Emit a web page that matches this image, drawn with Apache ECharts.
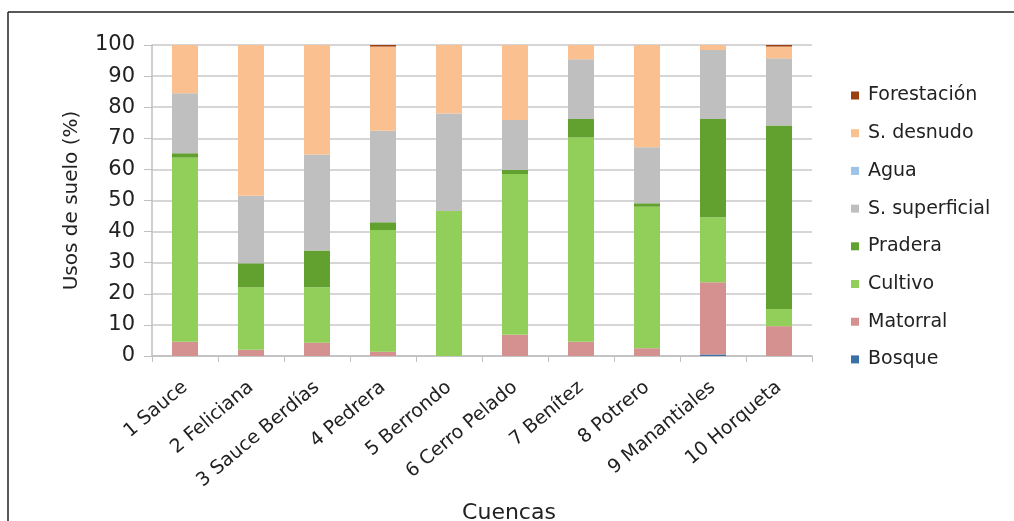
<!DOCTYPE html>
<html>
<head>
<meta charset="utf-8">
<script src="https://cdn.jsdelivr.net/npm/echarts@6/dist/echarts.min.js"></script>
<style>
html,body{margin:0;padding:0;background:#fff;}
#chart{width:1014px;height:521px;}
</style>
</head>
<body>
<div id="chart"></div>
<script>
const categories = ['1 Sauce','2 Feliciana','3 Sauce Berdías','4 Pedrera','5 Berrondo','6 Cerro Pelado','7 Benítez','8 Potrero','9 Manantiales','10 Horqueta'];
const bosque       = [0, 0, 0, 0, 0, 0, 0, 0, 0.5, 0];
const matorral     = [4.6, 2.0, 4.3, 1.4, 0, 6.8, 4.6, 2.5, 23.2, 9.6];
const cultivo      = [59.2, 20.1, 17.8, 39.1, 46.6, 51.7, 65.7, 45.5, 20.9, 5.5];
const pradera      = [1.4, 7.7, 11.8, 2.5, 0, 1.3, 5.9, 1.1, 31.6, 59.0];
const sSuperficial = [19.3, 21.7, 30.9, 29.4, 31.4, 16.1, 19.2, 18.0, 22.2, 21.6];
const agua         = [0, 0, 0, 0, 0, 0, 0, 0, 0, 0];
const sDesnudo     = [15.5, 48.5, 35.2, 27.1, 22.0, 24.1, 4.6, 32.9, 1.6, 3.8];
const forestacion  = [0, 0, 0, 0.5, 0, 0, 0, 0, 0, 0.5];
const yTicks = [0, 10, 20, 30, 40, 50, 60, 70, 80, 90, 100];

const seriesDefs = [
  ['Bosque', bosque, '#3a6fa8'],
  ['Matorral', matorral, '#d4918f'],
  ['Cultivo', cultivo, '#92cf5a'],
  ['Pradera', pradera, '#62a030'],
  ['S. superficial', sSuperficial, '#bfbfbf'],
  ['Agua', agua, '#9dc3e6'],
  ['S. desnudo', sDesnudo, '#fac090'],
  ['Forestación', forestacion, '#9c3f10']
];

const font = 'DejaVu Sans, Verdana, sans-serif';
const chart = echarts.init(document.getElementById('chart'), null, {renderer: 'canvas'});
chart.setOption({
  animation: false,
  backgroundColor: '#fff',
  textStyle: {fontFamily: font},
  grid: {left: 152, right: 202, top: 45, bottom: 165, containLabel: false, outerBoundsMode: 'none'},
  legend: {
    orient: 'vertical',
    left: 846,
    top: 81,
    itemWidth: 8,
    itemHeight: 8,
    itemGap: 18.7,
    icon: 'rect',
    data: seriesDefs.map(s => s[0]).reverse(),
    textStyle: {fontSize: 19, color: '#222', fontFamily: font, padding: [0, 0, 0, 4]}
  },
  xAxis: {
    type: 'category',
    data: categories,
    name: 'Cuencas',
    nameLocation: 'middle',
    nameGap: 146,
    nameTextStyle: {fontSize: 22, color: '#222', fontFamily: font, padding: [0, 0, 0, 54]},
    axisLine: {lineStyle: {color: '#bfbfbf', width: 1.5}},
    axisTick: {show: true, length: 6, lineStyle: {color: '#bfbfbf'}},
    axisLabel: {rotate: 40, fontSize: 19, color: '#222', margin: 29, interval: 0, fontFamily: font}
  },
  yAxis: {
    type: 'value',
    min: 0,
    max: 100,
    interval: 10,
    name: 'Usos de suelo (%)',
    nameLocation: 'middle',
    nameGap: 70,
    nameTextStyle: {fontSize: 20, color: '#222', fontFamily: font},
    axisLine: {show: true, lineStyle: {color: '#bfbfbf', width: 1.5}},
    axisTick: {show: true, length: 8, lineStyle: {color: '#bfbfbf'}},
    axisLabel: {fontSize: 21, color: '#222', margin: 17, fontFamily: font,
      formatter: v => yTicks.includes(v) ? String(v) : ''},
    splitLine: {lineStyle: {color: '#c8c8c8', width: 1.5}}
  },
  series: seriesDefs.map(([name, data, color]) => ({
    name, type: 'bar', stack: 'total', data,
    barWidth: 26,
    itemStyle: {color},
    emphasis: {disabled: true}
  })),
  graphic: [
    {type: 'line', shape: {x1: 8, y1: 12, x2: 1014, y2: 12}, style: {stroke: '#222', lineWidth: 1.5}},
    {type: 'line', shape: {x1: 8, y1: 12, x2: 8, y2: 521}, style: {stroke: '#222', lineWidth: 1.5}}
  ]
});
</script>
</body>
</html>
